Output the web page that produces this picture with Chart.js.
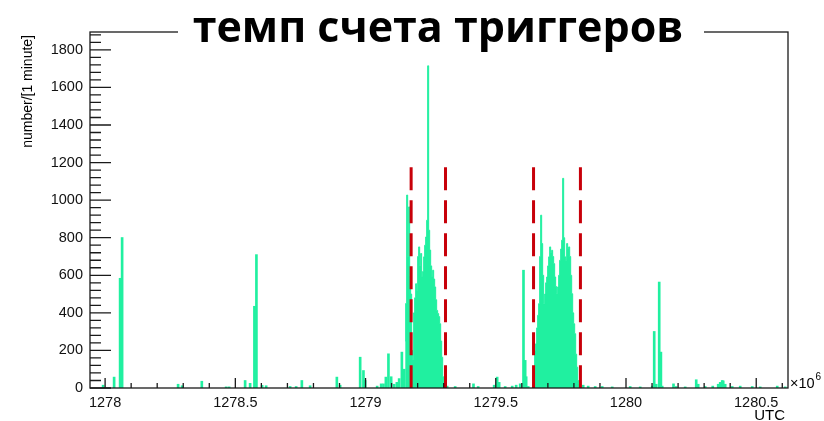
<!DOCTYPE html>
<html>
<head>
<meta charset="utf-8">
<script src="https://cdn.jsdelivr.net/npm/chart.js@4.4.0/dist/chart.umd.min.js"></script>
<style>
  html, body { margin: 0; padding: 0; background: #fff; }
</style>
</head>
<body>
<canvas id="trigChart" width="824" height="421"></canvas>
<script>
// texts
const titleText = 'темп счета триггеров';
const yTitle = 'number/[1 minute]';
const xTitle = 'UTC';

// tick labels
const xMajor = [1278, 1278.5, 1279, 1279.5, 1280, 1280.5];
const yMajor = [0, 200, 400, 600, 800, 1000, 1200, 1400, 1600, 1800];

// isolated spikes (x in 10^6 s, counts per minute)
const spikeX = [1277.9923, 1278.0346, 1278.0576, 1278.0653, 1278.2803, 1278.2957, 1278.3713, 1278.4647,
  1278.4762, 1278.5376, 1278.5568, 1278.5733, 1278.5810, 1278.6029, 1278.6183, 1278.7104, 1278.7335,
  1278.7554, 1278.7872, 1278.8898, 1278.9025, 1278.9793, 1278.9919, 1278.9985, 1279.0445, 1279.0599,
  1279.0687, 1279.0780, 1279.0879, 1279.0983, 1279.1098, 1279.1202, 1279.1290, 1279.1394, 1279.1482,
  1279.3133, 1279.3441, 1279.4144, 1279.4324, 1279.4938, 1279.5053, 1279.5130, 1279.5361, 1279.5630,
  1279.5783, 1279.5937, 1279.6064, 1279.6129, 1279.6167, 1279.6245,
  1279.8356, 1279.8548, 1279.8817, 1279.9086, 1279.9470, 1280.0161, 1280.0545, 1280.1006, 1280.1083,
  1280.1160, 1280.1275, 1280.1340, 1280.1390, 1280.1824, 1280.1928, 1280.2273, 1280.2696, 1280.2772,
  1280.3041, 1280.3331, 1280.3540, 1280.3617, 1280.3694, 1280.3733, 1280.3809, 1280.4078, 1280.4385,
  1280.4846, 1280.5153, 1280.5806, 1280.6113];
const spikeY = [15, 58, 584, 801, 20, 12, 36, 6,
  6, 40, 25, 435, 710, 14, 12, 8, 8,
  40, 12, 58, 15, 164, 93, 40, 10, 22,
  22, 58, 182, 60, 20, 30, 50, 191, 100,
  10, 8, 22, 8, 15, 58, 30, 8, 10,
  15, 22, 627, 147, 60, 8,
  15, 10, 8, 8, 6, 8, 6, 10, 301,
  20, 564, 191, 10, 22, 8, 6, 44, 20,
  8, 10, 20, 30, 40, 38, 20, 8, 10,
  8, 6, 10, 6];

// the two bursts, consecutive bins
const burstBin = 0.00384;
const burst1Start = 1279.1521;
const burst1 = [250, 450, 1027, 700, 964, 600, 500, 200, 150, 400, 480, 555, 520, 700, 751, 650, 716,
  591, 620, 698, 760, 804, 893, 1715, 840, 734, 650, 591, 627, 580, 538, 470, 413, 396, 380, 342,
  250, 164, 60, 20];
const burst2Start = 1279.6474;
const burst2 = [100, 200, 235, 320, 387, 449, 700, 920, 769, 600, 449, 500, 560, 591, 650, 698, 751,
  720, 733, 700, 662, 591, 540, 502, 538, 600, 680, 740, 787, 1116, 800, 698, 680, 769, 740, 751,
  700, 600, 502, 400, 342, 289, 180, 111, 40, 22];

// selection windows (red dashed)
const windowEdges = [1279.175, 1279.307, 1279.645, 1279.825];
const windowTop = 1175;

const green = '#20f0a0';
const red = '#c8000a';

const spikeData = spikeX.map((x, i) => ({ x: x, y: spikeY[i] }));

function burstSet(start, values) {
  return {
    type: 'line',
    data: values.map((v, i) => ({ x: start + i * burstBin, y: v })),
    stepped: 'middle',
    borderColor: green,
    backgroundColor: green,
    borderWidth: 1,
    pointRadius: 0,
    fill: 'origin',
    order: 2
  };
}

const datasets = [{
  type: 'bar',
  data: spikeData,
  backgroundColor: green,
  borderWidth: 0,
  barThickness: 2,
  order: 3
}, burstSet(burst1Start, burst1), burstSet(burst2Start, burst2)];

windowEdges.forEach(x => {
  datasets.push({
    type: 'line',
    data: [{ x: x, y: windowTop }, { x: x, y: 0 }],
    borderColor: red,
    borderWidth: 3,
    borderDash: [23, 10],
    pointRadius: 0,
    fill: false,
    order: 1
  });
});

const labelFont = { family: '"Liberation Sans", Arial, sans-serif', size: 14.5 };

const rootFrame = {
  id: 'rootFrame',
  afterDraw(chart) {
    const ctx = chart.ctx;
    const a = chart.chartArea;
    const sx = chart.scales.x, sy = chart.scales.y;
    ctx.save();
    ctx.strokeStyle = '#1a1a1a';
    ctx.lineWidth = 1.3;
    ctx.beginPath();
    // y ticks, inward
    for (let v = 0; v <= sy.max; v += 40) {
      const p = sy.getPixelForValue(v);
      const len = v % 200 === 0 ? 21 : 11;
      ctx.moveTo(a.left, p);
      ctx.lineTo(a.left + len, p);
    }
    // x ticks, inward
    for (let k = 0; k <= 26; k++) {
      const p = sx.getPixelForValue(1278 + k * 0.1);
      const len = k % 5 === 0 ? 10 : 5;
      ctx.moveTo(p, a.bottom);
      ctx.lineTo(p, a.bottom - len);
    }
    ctx.stroke();
    ctx.strokeRect(a.left, a.top, a.right - a.left, a.bottom - a.top);

    // title box over the frame
    ctx.fillStyle = '#fff';
    ctx.fillRect(178, 0, 526, 44);
    ctx.fillStyle = '#000';
    ctx.font = 'bold 43px "Open Sans", sans-serif';
    ctx.textAlign = 'center';
    ctx.textBaseline = 'alphabetic';
    ctx.fillText(titleText, 438, 42);

    // axis titles
    ctx.font = '14px "Liberation Sans", Arial, sans-serif';
    ctx.save();
    ctx.translate(28, 35);
    ctx.rotate(-Math.PI / 2);
    ctx.textAlign = 'right';
    ctx.textBaseline = 'middle';
    ctx.fillText(yTitle, 0, 0);
    ctx.restore();

    ctx.font = '15px "Liberation Sans", Arial, sans-serif';
    ctx.textAlign = 'right';
    ctx.fillText(xTitle, 785, 420);

    ctx.textAlign = 'left';
    ctx.font = '14.5px "Liberation Sans", Arial, sans-serif';
    ctx.fillText('×10', 790, 388);
    const w = ctx.measureText('×10').width;
    ctx.font = '10px "Liberation Sans", Arial, sans-serif';
    ctx.fillText('6', 790 + w + 1, 380);
    ctx.restore();
  }
};

new Chart(document.getElementById('trigChart'), {
  type: 'bar',
  data: { datasets: datasets },
  options: {
    responsive: false,
    animation: false,
    devicePixelRatio: 1,
    layout: { padding: { top: 32, right: 36, left: 0, bottom: 0 } },
    plugins: {
      legend: { display: false },
      tooltip: { enabled: false },
      title: { display: false }
    },
    scales: {
      x: {
        type: 'linear',
        min: 1277.942,
        max: 1280.622,
        offset: false,
        grid: { display: false, drawTicks: false },
        border: { display: false },
        afterBuildTicks: s => { s.ticks = xMajor.map(v => ({ value: v })); },
        afterFit: s => { s.height = 33; },
        ticks: {
          callback: v => String(v),
          font: labelFont,
          color: '#111',
          padding: 6,
          maxRotation: 0,
          autoSkip: false
        }
      },
      y: {
        type: 'linear',
        min: 0,
        max: 1895,
        grid: { display: false, drawTicks: false },
        border: { display: false },
        afterBuildTicks: s => { s.ticks = yMajor.map(v => ({ value: v })); },
        afterFit: s => { s.width = 90; },
        ticks: {
          callback: v => String(v),
          font: labelFont,
          color: '#111',
          padding: 7
        }
      }
    }
  },
  plugins: [rootFrame]
});
</script>
</body>
</html>
